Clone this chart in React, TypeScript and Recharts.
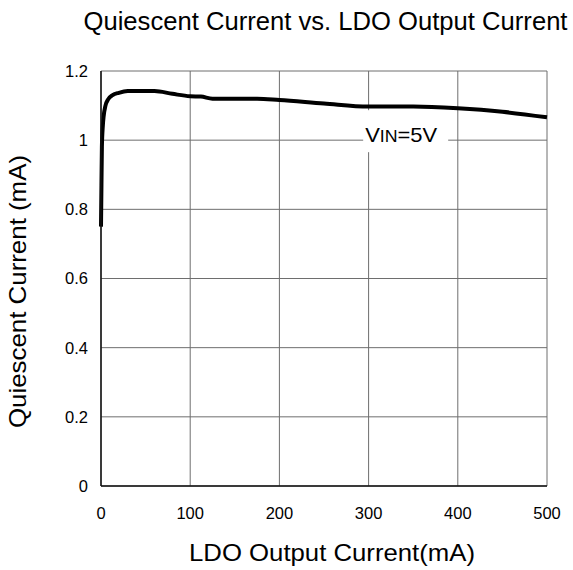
import {
  LineChart,
  Line,
  XAxis,
  YAxis,
  CartesianGrid,
  ReferenceDot,
  Label,
} from "recharts";

const loadCurrent = [
  0, 0.5, 1, 2, 3, 5, 8, 13, 20, 30, 60, 80, 100, 112, 125, 175, 200, 250, 300,
  350, 400, 450, 500,
];
const quiescent = [
  0.75, 0.87, 0.98, 1.04, 1.07, 1.1, 1.118, 1.13, 1.137, 1.142, 1.142, 1.134,
  1.127, 1.126, 1.12, 1.12, 1.116, 1.106, 1.097, 1.097, 1.092, 1.082, 1.066,
];
const xTicks = [0, 100, 200, 300, 400, 500];
const yTicks = [0, 0.2, 0.4, 0.6, 0.8, 1, 1.2];

const title = "Quiescent Current vs. LDO Output Current";
const xTitle = "LDO Output Current(mA)";
const yTitle = "Quiescent Current (mA)";

const data = loadCurrent.map((x, i) => ({ x, iq: quiescent[i] }));

const font = '"Liberation Sans", Arial, sans-serif';

// white box with the "VIN=5V" note, centered on a data point
const VinNote = (props: any) => {
  const { cx, cy } = props;
  return (
    <g>
      <rect x={cx - 42} y={cy - 21} width={85} height={42} fill="#fff" />
      <text
        x={cx - 40}
        y={cy + 11}
        fontFamily={font}
        fontSize={21}
        fill="#000"
        textLength={72}
        lengthAdjust="spacingAndGlyphs"
      >
        V<tspan fontSize={17}>IN</tspan>=5V
      </text>
    </g>
  );
};

const App = () => {
  return (
    <div
      style={{
        position: "absolute",
        left: 0,
        top: 0,
        width: 573,
        height: 570,
        background: "#fff",
      }}
    >
      <LineChart
        width={573}
        height={570}
        data={data}
        margin={{ top: 71, right: 26, left: 0, bottom: 0 }}
      >
        <CartesianGrid stroke="#6e6e6e" strokeWidth={1} />
        <XAxis
          dataKey="x"
          type="number"
          domain={[0, 500]}
          ticks={xTicks}
          height={84}
          tickLine={false}
          tickSize={6}
          tickMargin={15}
          axisLine={{ stroke: "#111", strokeWidth: 1.5 }}
          tick={{ fill: "#000", fontSize: 16.5, fontFamily: font }}
        >
          <Label
            content={(p: any) => {
              const vb = p.viewBox;
              return (
                <text
                  x={vb.x + vb.width / 2 + 8}
                  y={vb.y + 75}
                  textAnchor="middle"
                  fontFamily={font}
                  fontSize={24.5}
                  fill="#000"
                  textLength={286}
                  lengthAdjust="spacingAndGlyphs"
                >
                  {xTitle}
                </text>
              );
            }}
          />
        </XAxis>
        <YAxis
          type="number"
          domain={[0, 1.2]}
          ticks={yTicks}
          width={101}
          tickLine={false}
          tickSize={6}
          tickMargin={7}
          axisLine={{ stroke: "#111", strokeWidth: 1.5 }}
          tick={{ fill: "#000", fontSize: 16.5, fontFamily: font }}
          tickFormatter={(v: number) => String(+v.toFixed(1))}
        >
          <Label
            content={(p: any) => {
              const vb = p.viewBox;
              const lx = vb.x + 26;
              const ly = vb.y + vb.height / 2 + 13;
              return (
                <text
                  x={lx}
                  y={ly}
                  transform={`rotate(-90 ${lx} ${ly})`}
                  textAnchor="middle"
                  fontFamily={font}
                  fontSize={24.5}
                  fill="#000"
                  textLength={273}
                  lengthAdjust="spacingAndGlyphs"
                >
                  {yTitle}
                </text>
              );
            }}
          />
        </YAxis>
        <Line
          type="monotone"
          dataKey="iq"
          stroke="#000"
          strokeWidth={4}
          dot={false}
          isAnimationActive={false}
        />
        <ReferenceDot x={341} y={1.026} r={0} shape={VinNote} />
      </LineChart>
      <svg
        width={573}
        height={50}
        style={{ position: "absolute", left: 0, top: 0, pointerEvents: "none" }}
      >
        <text
          x={325.5}
          y={30}
          textAnchor="middle"
          fontFamily={font}
          fontSize={25}
          fill="#000"
          textLength={484}
          lengthAdjust="spacingAndGlyphs"
        >
          {title}
        </text>
      </svg>
    </div>
  );
};

export default App;
